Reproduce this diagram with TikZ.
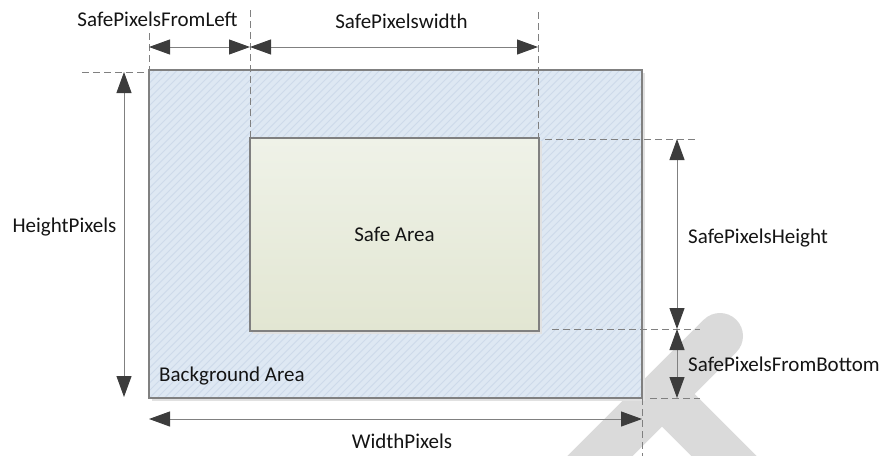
\documentclass[tikz,border=0pt]{standalone}
\usepackage{fontspec}
\setmainfont{Carlito}
\usetikzlibrary{arrows.meta,calc}
\definecolor{bgfill}{RGB}{222,232,243}
\definecolor{hatchc}{RGB}{205,218,234}
\definecolor{safetop}{RGB}{239,242,232}
\definecolor{safebot}{RGB}{226,230,210}
\definecolor{edge}{RGB}{128,128,128}
\definecolor{headc}{RGB}{60,60,60}
\definecolor{wmc}{RGB}{218,218,218}
\definecolor{shadowc}{RGB}{225,225,225}
\tikzset{
  dimline/.style={draw=edge, line width=1pt,
    {Triangle[length=21pt,width=15pt,color=headc]}-{Triangle[length=21pt,width=15pt,color=headc]}},
  guide/.style={draw=edge, line width=0.9pt, dash pattern=on 7pt off 4pt},
  lbl/.style={inner sep=0pt, font=\fontsize{21}{25}\selectfont, text=black!92},
  areabox/.style={draw=edge, line width=1.2pt, inner sep=0pt, outer sep=0pt, anchor=north west},
  wmbar/.style={draw=wmc, line width=46pt},
}
\begin{document}
\begin{tikzpicture}[x=1pt,y=-1pt]
\useasboundingbox (0,0) rectangle (888,455);
% watermark
\draw[wmbar, line cap=round] (720,336) -- (560,496);
\draw[wmbar] (662,394) -- (800,532);
% shadows
\fill[shadowc] (152,73) rectangle (645,401);
% background area
\node[areabox, fill=bgfill, minimum width=493pt, minimum height=328pt] (bg) at (149,70) {};
\begin{scope}
  \clip (bg.north west) rectangle (bg.south east);
  \foreach \a in {-340,-332.5,...,660} {
    \draw[hatchc, line width=0.8pt] (\a,400) -- (\a+340,60);
  }
\end{scope}
\draw[draw=edge, line width=1.2pt] (bg.north west) rectangle (bg.south east);
% safe area
\fill[shadowc] (253,141) rectangle (542,334);
\shade[top color=safetop, bottom color=safebot] (250,138) rectangle (539,331);
\node[areabox, minimum width=289pt, minimum height=193pt, lbl] (safe) at (250,138) {Safe Area};
% guide coordinates
\coordinate (gTL) at (149,33);
\coordinate (gSL) at (250,10);
\coordinate (gSR) at (538,12);
\coordinate (gSRb) at (538,138);
\coordinate (gL1) at (82,72);
\coordinate (gL2) at (145,72);
\coordinate (gR1a) at (545,139);
\coordinate (gR1b) at (695,139);
\coordinate (gR2a) at (552,329);
\coordinate (gR2b) at (700,329);
\coordinate (gR3a) at (650,398);
\coordinate (gR3b) at (700,398);
\coordinate (gBa) at (642,398);
\coordinate (gBb) at (642,460);
% guides
\draw[guide] (gTL) -- (bg.north west);
\draw[guide] (gSL) -- (safe.north west);
\draw[guide] (gSR) -- (gSRb);
\draw[guide] (gL1) -- (gL2);
\draw[guide] (gR1a) -- (gR1b);
\draw[guide] (gR2a) -- (gR2b);
\draw[guide] (gR3a) -- (gR3b);
\draw[guide] (gBa) -- (gBb);
% arrow end points
\coordinate (aT1) at (149,47);
\coordinate (aT2) at (250,47);
\coordinate (aT3) at (538,47);
\coordinate (aL1) at (124,72);
\coordinate (aL2) at (124,397);
\coordinate (aR1) at (677,139);
\coordinate (aR2) at (677,329);
\coordinate (aR3) at (677,398);
\coordinate (aB1) at (149,419);
\coordinate (aB2) at (642,419);
% dimension arrows
\draw[dimline] (aT1) -- (aT2);
\draw[dimline] (aT2) -- (aT3);
\draw[dimline] (aL1) -- (aL2);
\draw[dimline] (aR1) -- (aR2);
\draw[dimline] (aR2) -- (aR3);
\draw[dimline] (aB1) -- (aB2);
% labels
\node[lbl, anchor=base] (tFL) at (157.5,26) {SafePixelsFromLeft};
\node[lbl, anchor=base] (tSW) at (401.5,28) {SafePixelswidth};
\node[lbl, anchor=base] (tHP) at (64.5,232) {HeightPixels};
\node[lbl, anchor=base west] (tSH) at (688,243) {SafePixelsHeight};
\node[lbl, anchor=base west] (tSB) at (688,371) {SafePixelsFromBottom};
\node[lbl, anchor=base west] (tBA) at (159,381) {Background Area};
\node[lbl, anchor=base] (tWP) at (402,448) {WidthPixels};
\end{tikzpicture}
\end{document}
